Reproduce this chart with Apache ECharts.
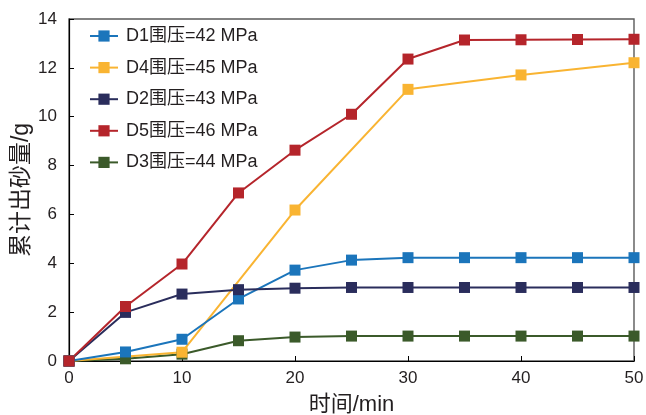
<!DOCTYPE html>
<html>
<head>
<meta charset="utf-8">
<script src="https://cdn.jsdelivr.net/npm/echarts@6/dist/echarts.min.js"></script>
<style>html,body{margin:0;padding:0;background:#fff}#c{width:646px;height:415px}</style>
</head>
<body>
<div id="c"></div>
<script>
const times = [0, 5, 10, 15, 20, 25, 30, 35, 40, 45, 50];
const d1 = [0, 0.37, 0.89, 2.54, 3.72, 4.13, 4.23, 4.23, 4.23, 4.23, 4.23];
const d4 = [0, null, 0.36, null, 6.18, null, 11.12, null, 11.71, null, 12.21];
const d2 = [0, 1.99, 2.74, 2.92, 2.98, 3.01, 3.01, 3.01, 3.01, 3.01, 3.01];
const d5 = [0, 2.23, 3.97, 6.88, 8.63, 10.1, 12.36, 13.14, 13.15, 13.16, 13.17];
const d3 = [0, 0.09, 0.28, 0.83, 0.98, 1.02, 1.02, 1.02, 1.02, 1.02, 1.02];
const names = ['D1围压=42 MPa', 'D4围压=45 MPa', 'D2围压=43 MPa', 'D5围压=46 MPa', 'D3围压=44 MPa'];
const colors = ['#1b75bb', '#f9b432', '#2a2d5c', '#b5252b', '#3b5a2a'];
const xTicks = [0, 10, 20, 30, 40, 50];
const yTicks = [0, 2, 4, 6, 8, 10, 12, 14];

const FONT = '"Liberation Sans", Arial, "Noto Sans CJK SC", sans-serif';
function pairs(vals) {
  const out = [];
  vals.forEach((v, i) => { if (v !== null) out.push([times[i], v]); });
  return out;
}
const seriesDefs = [
  { name: names[4], data: d3, color: colors[4] },
  { name: names[1], data: d4, color: colors[1] },
  { name: names[0], data: d1, color: colors[0] },
  { name: names[2], data: d2, color: colors[2] },
  { name: names[3], data: d5, color: colors[3] }
];
const chart = echarts.init(document.getElementById('c'), null, { renderer: 'canvas' });
chart.setOption({
  animation: false,
  backgroundColor: '#fff',
  textStyle: { fontFamily: FONT },
  grid: { left: 69, right: 12, top: 19, bottom: 54, show: true, borderColor: '#5a5a5a', borderWidth: 1.4, containLabel: false, outerBoundsMode: 'none' },
  legend: {
    data: names,
    orient: 'vertical',
    left: 84,
    top: 21,
    itemWidth: 28,
    itemHeight: 14,
    itemGap: 11.6,
    textStyle: { fontSize: 18, color: '#231f20', fontFamily: FONT, lineHeight: 20, padding: [0, 0, 0, 3] }
  },
  xAxis: {
    type: 'value',
    min: 0, max: 50, interval: 10,
    name: '时间/min',
    nameLocation: 'middle',
    nameGap: 33,
    nameMoveOverlap: false,
    nameTextStyle: { fontSize: 22, color: '#231f20', fontFamily: FONT },
    axisLine: { lineStyle: { color: '#000', width: 1.2 } },
    axisTick: { inside: true, length: 5, lineStyle: { color: '#000' } },
    axisLabel: { fontSize: 17, color: '#231f20', margin: 9, formatter: v => xTicks.includes(v) ? String(v) : '' },
    splitLine: { show: false }
  },
  yAxis: {
    type: 'value',
    min: 0, max: 14, interval: 2,
    name: '累计出砂量/g',
    nameLocation: 'middle',
    nameGap: 36,
    nameMoveOverlap: false,
    nameTextStyle: { fontSize: 23, color: '#231f20', fontFamily: FONT },
    axisLine: { show: true, lineStyle: { color: '#000', width: 1.2 } },
    axisTick: { show: true, inside: true, length: 5, lineStyle: { color: '#000' } },
    axisLabel: { fontSize: 17, color: '#231f20', margin: 12, formatter: v => yTicks.includes(v) ? String(v) : '' },
    splitLine: { show: false }
  },
  series: seriesDefs.map(s => ({
    name: s.name,
    type: 'line',
    data: pairs(s.data),
    symbol: 'rect',
    symbolSize: 11,
    showAllSymbol: true,
    color: s.color,
    lineStyle: { width: 2, color: s.color },
    itemStyle: { color: s.color }
  }))
});
</script>
</body>
</html>
